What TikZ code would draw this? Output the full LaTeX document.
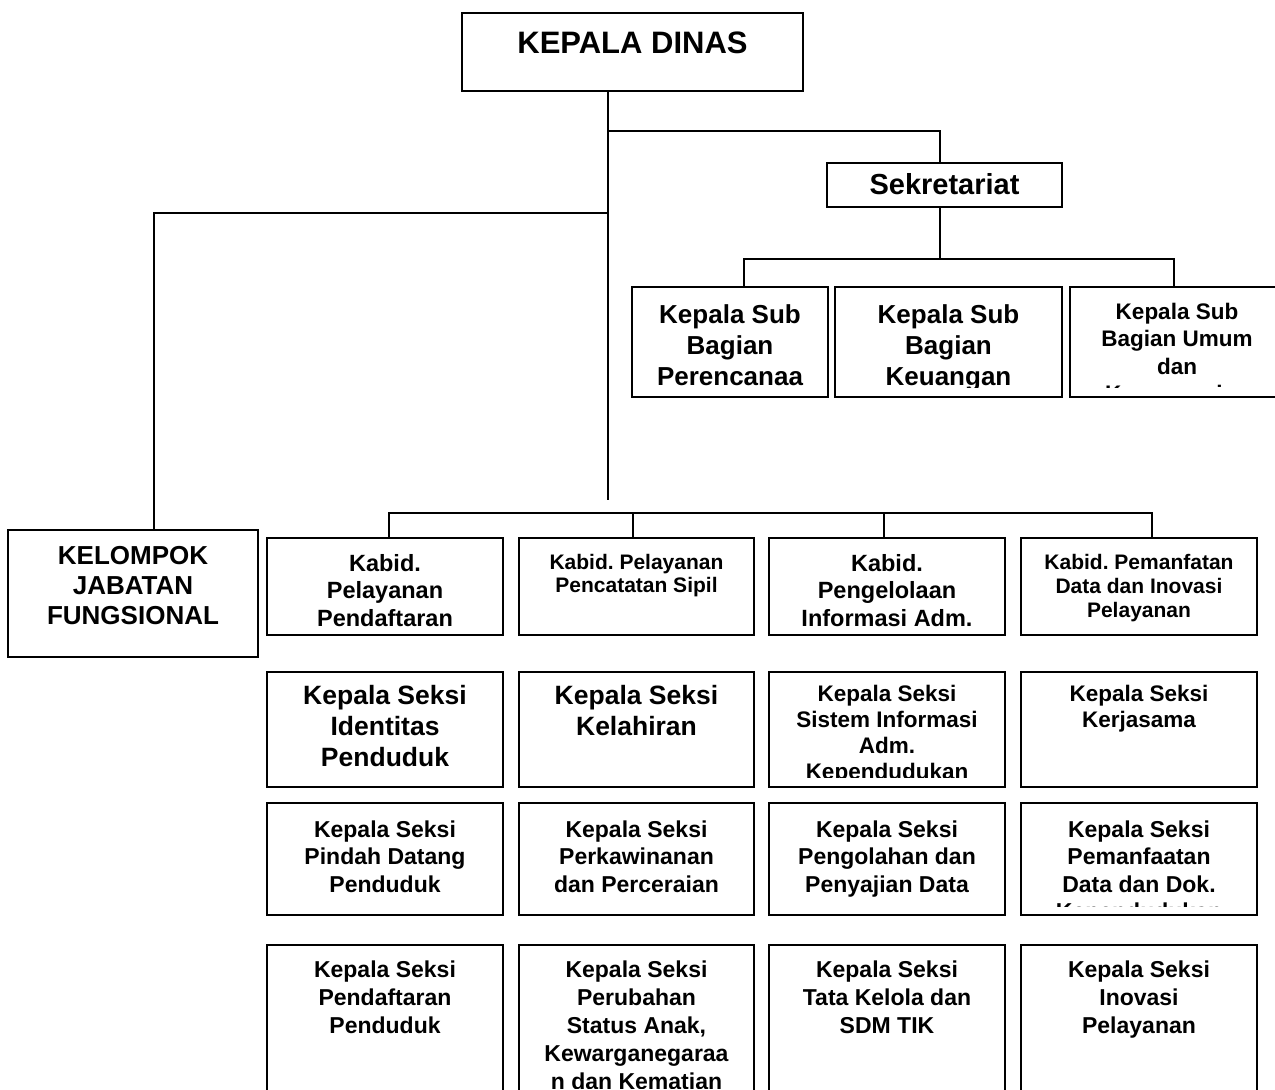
\documentclass[tikz,border=0pt]{standalone}
\usepackage{fontspec}
\setmainfont{Liberation Sans}
\usetikzlibrary{calc}
\frenchspacing
\tikzset{
  orgbox/.style={draw, line width=1.6pt, inner sep=0pt},
  conn/.style={line width=1.2pt},
  txt/.style={inner sep=0pt, align=center, text=black}
}
\newcommand\orgbox[5]{%
  \pgfmathsetmacro\mybw{#4-#2}\pgfmathsetmacro\mybh{#5-#3}%
  \node[orgbox, minimum width=\mybw pt, minimum height=\mybh pt] (#1) at ({(#2+#4)/2},{(#3+#5)/2}) {};}
\newcommand\boxtext[7]{%
  \pgfmathsetmacro\mytopy{#5-0.72*#3}%
  \begin{scope}
    \clip (#2.north west) rectangle (#2.east |- 0,#7);
    \node[txt, anchor=north, font=\fontsize{#3}{#4}\selectfont\bfseries\frenchspacing] (#1) at (#2.north |- 0,\mytopy) {#6};
  \end{scope}}
\begin{document}
\begin{tikzpicture}[x=1pt,y=-1pt]
\clip (0,0) rectangle (1275,1090);
\fill[white] (0,0) rectangle (1275,1090);
% boxes
\orgbox{kd}{462}{13}{803}{91}
\orgbox{sek}{827}{163}{1062}{207}
\orgbox{sub1}{632}{287}{828}{397}
\orgbox{sub2}{835}{287}{1062}{397}
\orgbox{sub3}{1070}{287}{1284}{397}
\orgbox{kjf}{8}{530}{258}{657}
\orgbox{k1}{267}{538}{503}{635}
\orgbox{k2}{519}{538}{754}{635}
\orgbox{k3}{769}{538}{1005}{635}
\orgbox{k4}{1021}{538}{1257}{635}
\orgbox{s21}{267}{672}{503}{787}
\orgbox{s22}{519}{672}{754}{787}
\orgbox{s23}{769}{672}{1005}{787}
\orgbox{s24}{1021}{672}{1257}{787}
\orgbox{s31}{267}{803}{503}{915}
\orgbox{s32}{519}{803}{754}{915}
\orgbox{s33}{769}{803}{1005}{915}
\orgbox{s34}{1021}{803}{1257}{915}
\orgbox{s41}{267}{945}{503}{1110}
\orgbox{s42}{519}{945}{754}{1110}
\orgbox{s43}{769}{945}{1005}{1110}
\orgbox{s44}{1021}{945}{1257}{1110}
% texts
\boxtext{tkd}{kd}{31}{36}{54}{KEPALA DINAS}{91}
\boxtext{tsek}{sek}{29}{34}{194}{Sekretariat}{207}
\boxtext{tsub1}{sub1}{26}{31}{323}{Kepala Sub\\Bagian\\Perencanaa}{387}
\boxtext{tsub2}{sub2}{26}{31}{323}{Kepala Sub\\Bagian\\Keuangan}{387}
\boxtext{tsub3}{sub3}{22.5}{27.5}{319}{Kepala Sub\\Bagian Umum\\dan\\Kepegawaian}{387}
\boxtext{tkjf}{kjf}{26}{30}{565}{KELOMPOK\\JABATAN\\FUNGSIONAL}{657}
\boxtext{tk1}{k1}{23.5}{27.5}{571}{Kabid.\\Pelayanan\\Pendaftaran}{635}
\boxtext{tk2}{k2}{21}{23.5}{569}{Kabid. Pelayanan\\Pencatatan Sipil}{635}
\boxtext{tk3}{k3}{23.5}{27.5}{571}{Kabid.\\Pengelolaan\\Informasi Adm.}{635}
\boxtext{tk4}{k4}{21}{24}{569}{Kabid. Pemanfatan\\Data dan Inovasi\\Pelayanan}{635}
\boxtext{ts21}{s21}{26.5}{31}{704}{Kepala Seksi\\Identitas\\Penduduk}{787}
\boxtext{ts22}{s22}{26.5}{31}{704}{Kepala Seksi\\Kelahiran}{787}
\boxtext{ts23}{s23}{22.5}{26}{701}{Kepala Seksi\\Sistem Informasi\\Adm.\\Kependudukan}{777}
\boxtext{ts24}{s24}{22.5}{26}{701}{Kepala Seksi\\Kerjasama}{787}
\boxtext{ts31}{s31}{23}{27.5}{837}{Kepala Seksi\\Pindah Datang\\Penduduk}{915}
\boxtext{ts32}{s32}{23}{27.5}{837}{Kepala Seksi\\Perkawinanan\\dan Perceraian}{915}
\boxtext{ts33}{s33}{23}{27.5}{837}{Kepala Seksi\\Pengolahan dan\\Penyajian Data}{915}
\boxtext{ts34}{s34}{23}{27.5}{837}{Kepala Seksi\\Pemanfaatan\\Data dan Dok.\\Kependudukan}{906}
\boxtext{ts41}{s41}{23}{28}{977}{Kepala Seksi\\Pendaftaran\\Penduduk}{1090}
\boxtext{ts42}{s42}{23}{28}{977}{Kepala Seksi\\Perubahan\\Status Anak,\\Kewarganegaraa\\n dan Kematian}{1088}
\boxtext{ts43}{s43}{23}{28}{977}{Kepala Seksi\\Tata Kelola dan\\SDM TIK}{1090}
\boxtext{ts44}{s44}{23}{28}{977}{Kepala Seksi\\Inovasi\\Pelayanan}{1090}
% connectors
\coordinate (trunkend) at (608,500);
\coordinate (jsek) at (608,131);
\coordinate (jkjf) at (608,213);
\coordinate (jsub) at (940,259);
\coordinate (bL) at (744,259);
\coordinate (bR) at (1174,259);
\coordinate (kL) at (389,513);
\coordinate (kR) at (1152,513);
\draw[conn] (kd.south -| trunkend) -- (trunkend);
\draw[conn] (jsek) -| (sek.north -| jsub);
\draw[conn] (sek.south -| jsub) -- (jsub);
\draw[conn] (sub1.north -| bL) -- (bL) -- (bR) -- (sub3.north -| bR);
\draw[conn] (jkjf) -| (kjf.north -| 154,0);
\draw[conn] (k1.north -| kL) -- (kL) -- (kR) -- (k4.north -| kR);
\draw[conn] (k2.north -| 633,0) -- (633,513);
\draw[conn] (k3.north -| 884,0) -- (884,513);
\end{tikzpicture}
\end{document}
